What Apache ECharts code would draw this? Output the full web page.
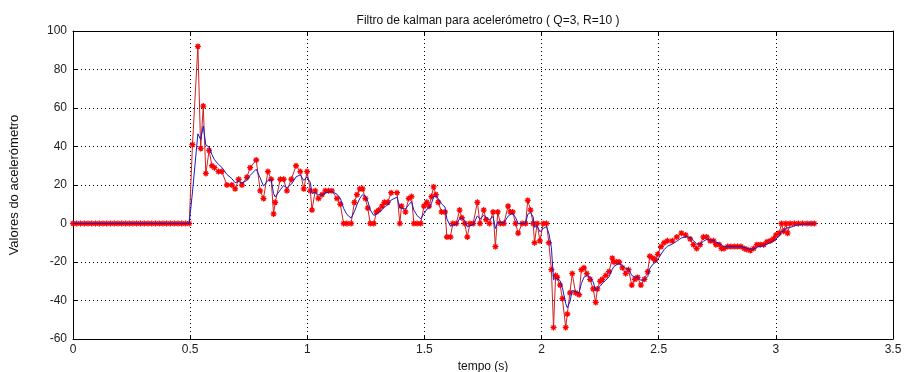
<!DOCTYPE html>
<html>
<head>
<meta charset="utf-8">
<script src="https://cdn.jsdelivr.net/npm/echarts@6/dist/echarts.min.js"></script>
<style>
html,body{margin:0;padding:0;background:#fff;}
#chart{width:908px;height:372px;}
</style>
</head>
<body>
<div id="chart"></div>
<script>
const titleText = 'Filtro de kalman para acelerómetro ( Q=3, R=10 )';
const xLabel = 'tempo (s)';
const yLabel = 'Valores do acelerómetro';

const rawTime = [
  0,0.016,0.032,0.048,0.064,0.08,0.096,0.112,0.128,0.144,0.16,0.176,0.192,0.208,0.224,0.24,
  0.256,0.272,0.288,0.304,0.32,0.336,0.352,0.368,0.384,0.4,0.416,0.432,0.448,0.464,0.48,0.496,
  0.510,0.533,0.545,0.556,0.567,0.581,0.593,0.604,0.621,0.635,
  0.657,0.678,0.692,0.707,0.721,0.742,0.756,0.782,0.799,0.813,
  0.832,0.846,0.856,0.863,0.885,0.899,0.913,0.932,0.952,0.970,
  0.985,0.999,1.013,1.020,1.034,1.048,1.063,1.077,1.091,1.105,
  1.127,1.141,1.155,
  1.169,1.187,1.201,1.212,1.224,1.236,1.248,1.258,1.269,1.284,
  1.295,1.305,1.319,1.329,1.343,1.358,1.383,1.395,1.402,1.419,
  1.433,1.445,1.455,1.469,1.484,1.498,1.510,1.520,1.530,1.539,
  1.549,1.559,1.573,1.588,1.596,1.611,1.621,1.636,1.650,1.660,
  1.672,1.683,1.694,1.708,1.726,1.737,1.753,1.763,1.777,1.793,
  1.803,1.813,1.824,1.839,1.857,1.867,1.877,1.889,1.900,1.917,
  1.932,1.941,1.953,1.964,1.970,1.981,1.993,2.007,2.021,
  2.031,2.042,2.051,2.060,2.067,2.079,2.089,2.103,2.110,2.121,
  2.131,2.145,2.160,2.170,2.181,2.193,2.207,2.220,2.231,2.238,
  2.250,2.259,2.274,2.288,2.302,2.309,2.321,2.331,2.345,2.359,
  2.371,2.385,2.398,2.410,2.424,2.439,2.453,2.462,2.475,2.485,
  2.496,2.510,
  2.523,2.537,2.558,2.577,2.597,2.615,2.634,2.648,2.662,2.677,
  2.691,2.705,2.720,2.734,2.744,2.758,2.768,2.779,2.794,2.808,
  2.822,2.836,2.851,2.865,2.876,2.891,2.905,2.919,2.933,2.948,
  2.962,2.976,2.990,3.000,3.014,3.024,3.033,3.043,3.050,3.061,
  3.079,3.096,3.114,3.133,3.150,3.164
];

const rawValue = [
  0,0,0,0,0,0,0,0,0,0,0,0,0,0,0,0,
  0,0,0,0,0,0,0,0,0,0,0,0,0,0,0,0,
  41,92,39,61,26,38,30,29,27,27,
  20,20,18,23,20,24,29,33,17,13,
  27,23,5,11,23,23,17,23,30,27,
  18,27,17,7,17,13,15,17,17,17,
  13,10,0,
  0,0,11,15,18,18,13,8,0,0,
  6,7,9,11,11,16,16,0,9,6,
  13,14,0,0,0,9,11,9,14,19,
  15,11,6,6,-7,-7,0,0,7,3,
  0,-7,0,0,11,0,7,2,0,6,
  -12,6,0,0,9,6,6,0,-5,0,
  0,12,7,0,-10,0,-9,0,0,
  -10,-24,-54,-27,-28,-32,-39,-54,-47,-36,
  -26,-36,-37,-24,-23,-26,-29,-34,-41,-34,
  -30,-29,-27,-25,-18,-20,-20,-20,-23,-26,
  -24,-32,-29,-28,-32,-29,-25,-17,-18,-19,
  -16,-12,
  -10,-9,-9,-7,-5,-6,-8,-11,-13,-11,
  -7,-7,-9,-9,-11,-11,-13,-13,-12,-12,
  -12,-12,-12,-13,-13.5,-14,-13,-11,-11,-11,
  -9.5,-9,-8,-6,-5,0,-4,0,-5,0,
  0,0,0,0,0,0
];

const kalmanValue = [
  0,0,0,0,0,0,0,0,0,0,0,0,0,0,0,0,
  0,0,0,0,0,0,0,0,0,0,0,0,0,0,0,0,
  16.4,46.6,43.6,50.6,40.8,39.7,35.8,33.1,30.7,29.2,
  25.5,23.3,21.2,21.9,21.1,22.3,25.0,28.2,23.7,19.4,
  22.4,22.7,15.6,13.8,17.5,19.7,18.6,20.4,24.2,25.3,
  22.4,24.2,21.3,15.6,16.2,14.9,14.9,15.8,16.3,16.6,
  15.2,13.1,7.9,
  4.7,2.8,6.1,9.7,13.0,15.0,14.2,11.7,7.0,4.2,
  4.9,5.8,7.1,8.6,9.6,12.2,13.7,8.2,8.5,7.5,
  9.7,11.4,6.9,4.1,2.5,5.1,7.4,8.1,10.4,13.9,
  14.3,13.0,10.2,8.5,2.3,-1.4,-0.8,-0.5,2.5,2.7,
  1.6,-1.8,-1.1,-0.7,4.0,2.4,4.2,3.3,2.0,3.6,
  -2.6,0.8,0.5,0.3,3.8,4.7,5.2,3.1,-0.1,0,
  0,4.8,5.7,3.4,-2.0,-1.2,-4.3,-2.6,-1.6,
  -5.0,-12.6,-29.2,-28.3,-28.2,-29.7,-33.4,-41.6,-43.8,-40.7,
  -34.8,-35.3,-36.0,-31.2,-27.9,-27.1,-27.9,-30.3,-34.6,-34.4,
  -32.6,-31.2,-29.5,-27.7,-23.8,-22.3,-21.4,-20.8,-21.7,-23.4,
  -23.6,-27.0,-27.8,-27.9,-29.5,-29.3,-27.6,-23.4,-21.2,-20.3,
  -18.6,-16.0,
  -13.6,-11.8,-10.7,-9.2,-7.5,-6.9,-7.3,-8.8,-10.5,-10.7,
  -9.2,-8.3,-8.6,-8.8,-9.7,-10.2,-11.3,-12.0,-12.0,-12.0,
  -12.0,-12.0,-12.0,-12.4,-12.8,-13.3,-13.2,-12.3,-11.8,-11.5,
  -10.7,-10.0,-9.2,-7.9,-6.7,-4.0,-4.0,-2.4,-3.4,-2.1,
  -1.2,-0.7,-0.4,-0.3,-0.2,-0.1
];

const xMin = 0, xMax = 3.5, xStep = 0.5;
const yMin = -60, yMax = 100, yStep = 20;

const FONT = "'Liberation Sans', Arial, sans-serif";
const rawPairs = rawTime.map((t, i) => [t, rawValue[i]]);
const kalPairs = rawTime.map((t, i) => [t, kalmanValue[i]]);

const chart = echarts.init(document.getElementById('chart'), null, {renderer: 'canvas'});

const tickInside = {show: true, inside: true, length: 4, lineStyle: {color: '#000', width: 1}};
const gridDots = {show: true, lineStyle: {color: '#000', width: 1, type: [1, 3]}};

chart.setOption({
  backgroundColor: '#ffffff',
  animation: false,
  title: {
    text: titleText,
    left: 483, top: 10, textAlign: 'center',
    textStyle: {fontFamily: FONT, fontSize: 12, fontWeight: 'normal', color: '#111'}
  },
  grid: {left: 73, right: 15, top: 31, bottom: 33, containLabel: false, outerBoundsMode: 'none'},
  xAxis: [{
    type: 'value', min: xMin, max: xMax, interval: xStep,
    name: xLabel, nameLocation: 'middle', nameGap: 15,
    nameTextStyle: {fontFamily: FONT, fontSize: 12, color: '#111'},
    axisLine: {show: true, onZero: false, lineStyle: {color: '#000', width: 1}},
    axisTick: tickInside,
    axisLabel: {fontFamily: FONT, fontSize: 12, color: '#222', margin: 5},
    splitLine: gridDots
  }, {
    type: 'value', min: xMin, max: xMax, interval: xStep, position: 'top',
    axisLine: {show: true, onZero: false, lineStyle: {color: '#000', width: 1}},
    axisTick: tickInside, axisLabel: {show: false}, splitLine: {show: false}
  }],
  yAxis: [{
    type: 'value', min: yMin, max: yMax, interval: yStep,
    name: yLabel, nameLocation: 'middle', nameGap: 52, nameRotate: 90,
    nameTextStyle: {fontFamily: FONT, fontSize: 13, color: '#111'},
    axisLine: {show: true, onZero: false, lineStyle: {color: '#000', width: 1}},
    axisTick: tickInside,
    axisLabel: {fontFamily: FONT, fontSize: 12, color: '#222', margin: 6},
    splitLine: gridDots
  }, {
    type: 'value', min: yMin, max: yMax, interval: yStep, position: 'right',
    axisLine: {show: true, onZero: false, lineStyle: {color: '#000', width: 1}},
    axisTick: tickInside, axisLabel: {show: false}, splitLine: {show: false}
  }],
  series: [{
    name: 'medido', type: 'line', xAxisIndex: 0, yAxisIndex: 0,
    data: rawPairs,
    symbol: 'path://M0,5L10,5M5,0L5,10M1.5,1.5L8.5,8.5M1.5,8.5L8.5,1.5',
    symbolSize: 6, showAllSymbol: true,
    lineStyle: {color: '#d02020', width: 1},
    itemStyle: {color: '#ff0000', borderColor: '#ff0000', borderWidth: 1.3},
    z: 2
  }, {
    name: 'kalman', type: 'line', xAxisIndex: 0, yAxisIndex: 0,
    data: kalPairs, showSymbol: false, symbol: 'none',
    lineStyle: {color: '#1a1ac8', width: 1},
    z: 3
  }]
});
</script>
</body>
</html>
